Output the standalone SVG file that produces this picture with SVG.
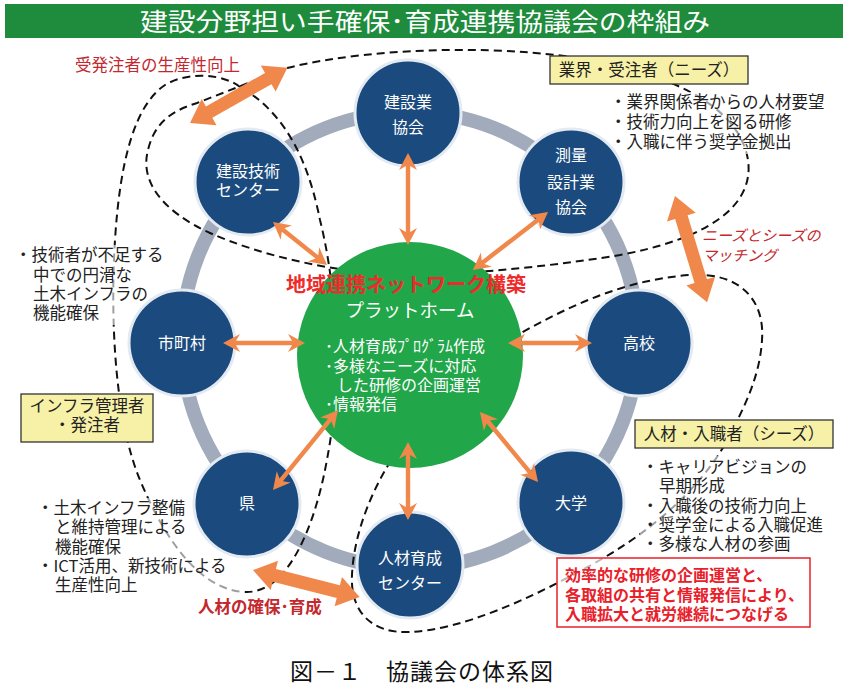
<svg xmlns="http://www.w3.org/2000/svg" width="848" height="692" viewBox="0 0 848 692">
<style>
text{font-family:"Noto Sans CJK JP","Noto Sans",sans-serif}
.nc{fill:#1b4b7e;stroke:#e4eaf1;stroke-width:3}
.nl{font-size:16px;fill:#fff;text-anchor:middle}
.dash{fill:none;stroke:#111;stroke-width:2;stroke-dasharray:8 5}
.ar{fill:#f1884b}
.t{font-size:16.5px;fill:#222}
.box{fill:#f6f1a6;stroke:#333;stroke-width:1.3}
.bg{fill:#fff;fill-opacity:0.6}
.dr{fill:#c3282e}
</style>
<rect width="848" height="692" fill="#fff"/>
<g id="title">
<rect x="5" y="4" width="838" height="34" fill="#1e8c3c"/>
<text x="140" y="31" font-size="25" fill="#fff" textLength="570" lengthAdjust="spacingAndGlyphs">建設分野担い手確保･育成連携協議会の枠組み</text>
</g>
<circle id="ring" cx="410" cy="340" r="228" fill="none" stroke="#a2abbc" stroke-width="14"/>
<g id="connectors">
<path class="dash" d="M287,68 C380,45 520,45 600,62 C680,78 740,110 748,160 C755,210 700,240 620,255 C540,268 460,275 400,275 C330,272 260,255 210,233 C160,210 140,180 148,150 C155,120 175,110 197,103 Z"/>
<path class="dash" d="M240,87 C225,75 190,70 165,85 C135,105 120,160 115,240 C110,320 115,420 140,480 C165,540 200,590 245,592 C290,594 315,520 325,470 C335,420 338,380 336,340 C334,300 330,260 320,220 C310,170 290,115 240,87 Z"/>
<path class="dash" d="M500,345 C560,310 620,280 690,275 C740,272 765,300 762,340 C760,375 745,405 735,425 C715,470 670,520 600,560 C530,600 460,630 410,632 C370,634 350,610 352,575 C354,530 375,480 405,440 Z"/>
</g>
<g id="text-bgs">
<rect class="bg" x="606" y="92" width="196" height="62"/>
<rect class="bg" x="12" y="245" width="155" height="80"/>
<rect class="bg" x="35" y="498" width="210" height="98"/>
<rect class="bg" x="640" y="456" width="178" height="98"/>
</g>
<g id="platform">
<circle cx="410" cy="355" r="113" fill="#21a649"/>
<text x="406" y="292" font-size="20" font-weight="bold" fill="#ee2a2a" text-anchor="middle">地域連携ネットワーク構築</text>
<text x="410" y="317" font-size="18.5" fill="#fff" text-anchor="middle">プラットホーム</text>
<text x="325" y="352" font-size="16" fill="#fff">･人材育成ﾌﾟﾛｸﾞﾗﾑ作成</text>
<text x="325" y="372" font-size="16" fill="#fff">･多様なニーズに対応</text>
<text x="337" y="391" font-size="16" fill="#fff">した研修の企画運営</text>
<text x="325" y="410" font-size="16" fill="#fff">･情報発信</text>
</g>
<g id="n-kensetsugyo"><circle class="nc" cx="408" cy="113" r="53"/><text class="nl" x="408" y="108">建設業</text><text class="nl" x="408" y="133">協会</text></g>
<g id="n-gijutsu"><circle class="nc" cx="248" cy="182" r="53"/><text class="nl" x="248" y="177">建設技術</text><text class="nl" x="248" y="196">センター</text></g>
<g id="n-sokuryo"><circle class="nc" cx="571" cy="182" r="53"/><text class="nl" x="571" y="161">測量</text><text class="nl" x="571" y="188">設計業</text><text class="nl" x="571" y="213">協会</text></g>
<g id="n-shichoson"><circle class="nc" cx="182" cy="343" r="53"/><text class="nl" x="182" y="349">市町村</text></g>
<g id="n-koko"><circle class="nc" cx="639" cy="343" r="53"/><text class="nl" x="639" y="349">高校</text></g>
<g id="n-ken"><circle class="nc" cx="247" cy="504" r="53"/><text class="nl" x="247" y="509">県</text></g>
<g id="n-ikusei"><circle class="nc" cx="410" cy="565" r="53"/><text class="nl" x="410" y="564">人材育成</text><text class="nl" x="410" y="589">センター</text></g>
<g id="n-daigaku"><circle class="nc" cx="571" cy="503" r="53"/><text class="nl" x="571" y="509">大学</text></g>
<g id="arrows">
<polygon class="ar" transform="translate(408,153) rotate(90)" points="0,0 17,-9 13,-2.2 79,-2.2 75,-9 92,0 75,9 79,2.2 13,2.2 17,9"/>
<polygon class="ar" transform="translate(273,222) rotate(38.5)" points="0,0 17,-9 13,-2.2 56,-2.2 52,-9 69,0 52,9 56,2.2 13,2.2 17,9"/>
<polygon class="ar" transform="translate(548,212) rotate(142.3)" points="0,0 17,-9 13,-2.2 82,-2.2 78,-9 95,0 78,9 82,2.2 13,2.2 17,9"/>
<polygon class="ar" transform="translate(223,343)" points="0,0 17,-9 13,-2.2 69,-2.2 65,-9 82,0 65,9 69,2.2 13,2.2 17,9"/>
<polygon class="ar" transform="translate(508,343)" points="0,0 17,-9 13,-2.2 71,-2.2 67,-9 84,0 67,9 71,2.2 13,2.2 17,9"/>
<polygon class="ar" transform="translate(273,490) rotate(-50.9)" points="0,0 17,-9 13,-2.2 90,-2.2 86,-9 103,0 86,9 90,2.2 13,2.2 17,9"/>
<polygon class="ar" transform="translate(408,442) rotate(90)" points="0,0 17,-9 13,-2.2 65,-2.2 61,-9 78,0 61,9 65,2.2 13,2.2 17,9"/>
<polygon class="ar" transform="translate(480,412) rotate(50.4)" points="0,0 17,-9 13,-2.2 78,-2.2 74,-9 91,0 74,9 78,2.2 13,2.2 17,9"/>
<polygon class="ar" transform="translate(190,123) rotate(-29.6)" points="0,0 22,-15 22,-6.5 90,-6.5 90,-15 112,0 90,15 90,6.5 22,6.5 22,15"/>
<polygon class="ar" transform="translate(675,196) rotate(73.2)" points="0,0 22,-15 22,-6.5 89,-6.5 89,-15 111,0 89,15 89,6.5 22,6.5 22,15"/>
<polygon class="ar" transform="translate(253,570) rotate(14.2)" points="0,0 22,-15 22,-6.5 88,-6.5 88,-15 110,0 88,15 88,6.5 22,6.5 22,15"/>
</g>
<g id="needs">
<rect class="box" x="550" y="56" width="198" height="28"/>
<text class="t" x="649" y="76" text-anchor="middle">業界・受注者（ニーズ）</text>
<text class="t" x="610" y="108">・業界関係者からの人材要望</text>
<text class="t" x="610" y="128">・技術力向上を図る研修</text>
<text class="t" x="610" y="148">・入職に伴う奨学金拠出</text>
</g>
<g id="infra">
<rect class="box" x="21" y="394" width="132" height="48"/>
<text class="t" x="87" y="412" font-size="16" text-anchor="middle">インフラ管理者</text>
<text class="t" x="87" y="431" font-size="16" text-anchor="middle">・発注者</text>
<text class="t" x="15" y="261">・技術者が不足する</text>
<text class="t" x="33" y="281">中での円滑な</text>
<text class="t" x="33" y="300">土木インフラの</text>
<text class="t" x="33" y="319">機能確保</text>
<text class="t" x="37" y="514">・土木インフラ整備</text>
<text class="t" x="55" y="533">と維持管理による</text>
<text class="t" x="55" y="553">機能確保</text>
<text class="t" x="37" y="572">・ICT活用、新技術による</text>
<text class="t" x="55" y="591">生産性向上</text>
</g>
<g id="seeds">
<rect class="box" x="635" y="420" width="198" height="28"/>
<text class="t" x="734" y="440" text-anchor="middle">人材・入職者（シーズ）</text>
<text class="t" x="642" y="473">・キャリアビジョンの</text>
<text class="t" x="659" y="492">早期形成</text>
<text class="t" x="642" y="512">・入職後の技術力向上</text>
<text class="t" x="642" y="531">・奨学金による入職促進</text>
<text class="t" x="642" y="550">・多様な人材の参画</text>
</g>
<g id="labels">
<text class="dr" x="75" y="71" font-size="16.5">受発注者の生産性向上</text>
<text class="dr" x="702" y="241" font-size="15" font-style="italic">ニーズとシーズの</text>
<text class="dr" x="702" y="261" font-size="15" font-style="italic">マッチング</text>
<text class="dr" x="198" y="613" font-size="16.5" font-weight="bold">人材の確保･育成</text>
</g>
<g id="summary">
<rect x="557" y="558" width="253" height="69" fill="#fff" fill-opacity="0.7" stroke="#e8202a" stroke-width="1.5"/>
<text x="565" y="581" font-size="16" font-weight="bold" fill="#e8202a">効率的な研修の企画運営と、</text>
<text x="565" y="601" font-size="16" font-weight="bold" fill="#e8202a">各取組の共有と情報発信により、</text>
<text x="565" y="620" font-size="16" font-weight="bold" fill="#e8202a">入職拡大と就労継続につなげる</text>
</g>
<text id="caption" x="290" y="680" font-size="23" fill="#111" textLength="263">図－１　協議会の体系図</text>
</svg>
